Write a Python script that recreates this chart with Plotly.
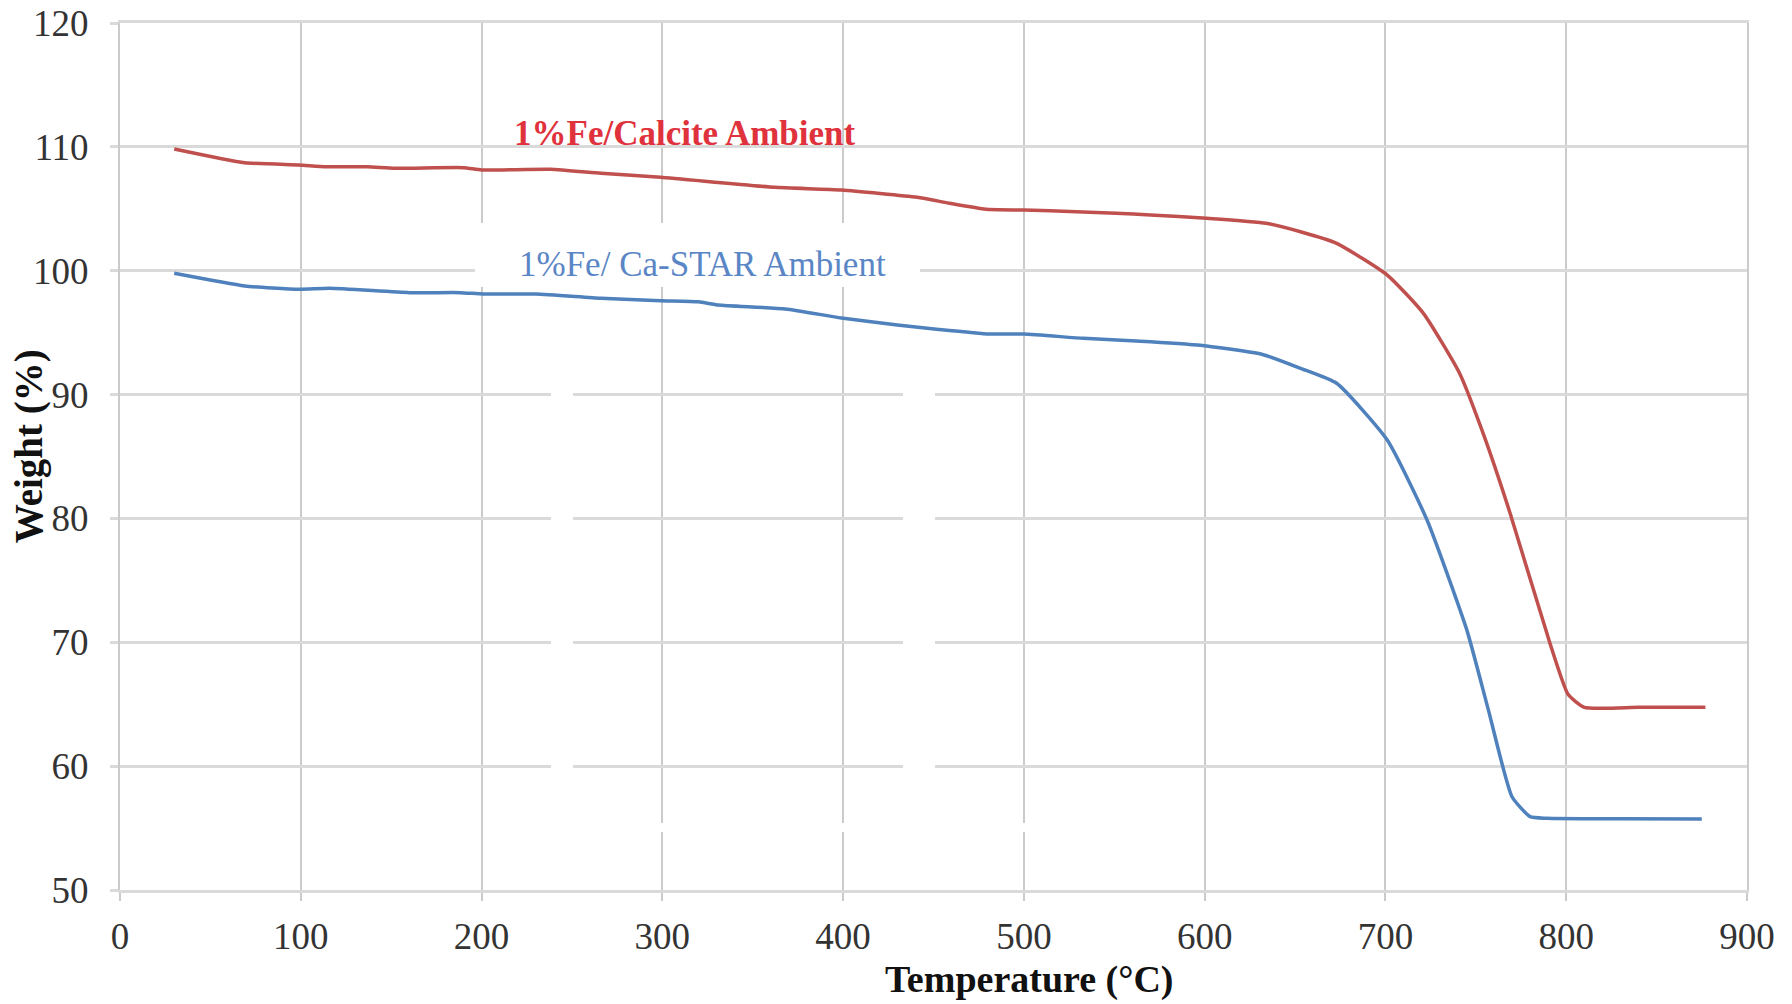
import plotly.graph_objects as go

# ---- data ----
calcite_T = [30, 69, 99, 114, 137, 152, 190, 200, 238, 266, 299, 362, 399, 441, 459, 479,
             500, 529, 551, 570, 601, 634, 653, 673, 701, 721, 741, 754, 769, 791, 801, 810,
             840, 877]
calcite_W = [109.83, 108.72, 108.54, 108.40, 108.40, 108.27, 108.32, 108.13, 108.19, 107.86,
             107.54, 106.73, 106.52, 105.93, 105.44, 104.96, 104.90, 104.77, 104.64, 104.50,
             104.23, 103.83, 103.15, 102.21, 99.65, 96.56, 91.72, 86.88, 80.40, 69.92, 65.80,
             64.75, 64.75, 64.75]

castar_T = [30, 69, 99, 116, 160, 188, 201, 230, 266, 299, 320, 331, 368, 399, 430, 453, 481,
            500, 533, 570, 601, 632, 653, 673, 701, 723, 745, 757, 770, 780, 789, 830, 875]
castar_W = [99.79, 98.77, 98.50, 98.58, 98.23, 98.23, 98.12, 98.12, 97.77, 97.58, 97.49, 97.23,
            96.91, 96.19, 95.62, 95.26, 94.89, 94.89, 94.54, 94.27, 93.93, 93.24, 92.12, 90.91,
            86.33, 79.87, 71.00, 64.50, 57.53, 55.92, 55.79, 55.75, 55.73]

x_ticks = [0, 100, 200, 300, 400, 500, 600, 700, 800, 900]
y_ticks = [50, 60, 70, 80, 90, 100, 110, 120]

calcite_name = "1%Fe/Calcite Ambient"
castar_name = "1%Fe/ Ca-STAR Ambient"
x_title = "Temperature (°C)"
y_title = "Weight (%)"

SERIF = "Times New Roman, Liberation Serif, serif"
RED_LINE = "#c0504d"
BLUE_LINE = "#4f81bd"
HGRID = "#dadada"
VGRID = "#cbcbcb"

fig = go.Figure()
fig.add_trace(go.Scatter(x=calcite_T, y=calcite_W, mode="lines", name=calcite_name,
                         line=dict(color=RED_LINE, width=3.5, shape="spline", smoothing=0.5),
                         showlegend=False))
fig.add_trace(go.Scatter(x=castar_T, y=castar_W, mode="lines", name=castar_name,
                         line=dict(color=BLUE_LINE, width=3.5, shape="spline", smoothing=0.5),
                         showlegend=False))

# series labels
fig.add_annotation(x=216.8, y=111.05, xref="x", yref="y", text="<b>" + calcite_name + "</b>",
                   showarrow=False, xanchor="left", yanchor="middle",
                   font=dict(family=SERIF, size=35, color="#e0323c"))
fig.add_annotation(x=219.8, y=100.5, xref="x", yref="y", text=castar_name,
                   showarrow=False, xanchor="left", yanchor="middle",
                   font=dict(family=SERIF, size=35, color="#5a86c6"))

# axis titles
fig.add_annotation(x=0.5587, y=-0.1038, xref="paper", yref="paper",
                   text="<b>" + x_title + "</b>", showarrow=False,
                   xanchor="center", yanchor="middle",
                   font=dict(family=SERIF, size=38, color="#111111"))
fig.add_annotation(x=-0.0559, y=0.512, xref="paper", yref="paper",
                   text="<b>" + y_title + "</b>", showarrow=False, textangle=-90,
                   xanchor="center", yanchor="middle",
                   font=dict(family=SERIF, size=39, color="#111111"))

# white patches (image artefacts of the original figure) over the grid
def paper_rect(x0, x1, y0, y1, layer="above"):
    L, R, T, B = 120, 1747, 23, 890
    fig.add_shape(type="rect", xref="paper", yref="paper",
                  x0=(x0 - L) / (R - L), x1=(x1 - L) / (R - L),
                  y0=1 - (y1 - T) / (B - T), y1=1 - (y0 - T) / (B - T),
                  fillcolor="white", line=dict(width=0), layer=layer)

paper_rect(475, 920, 223, 287)
paper_rect(551, 573, 380, 780)
paper_rect(903, 935, 380, 780)
paper_rect(570, 1100, 823, 832)

# plot area at x 120..1747, y 23..890 of the 1792x1004 page
fig.update_layout(
    width=1792, height=1004,
    margin=dict(l=120, r=45, t=23, b=114, autoexpand=False),
    paper_bgcolor="white", plot_bgcolor="white",
    font=dict(family=SERIF, size=36, color="#333333"),
)
fig.update_xaxes(range=[0, 900], tickvals=x_ticks, ticktext=[str(v) for v in x_ticks],
                 automargin=False, ticklabeloverflow="allow",
                 showgrid=True, gridcolor=VGRID, gridwidth=2,
                 zeroline=False, showline=True, mirror=True,
                 linecolor=HGRID, linewidth=3,
                 ticks="outside", ticklen=8, tickwidth=2, tickcolor=VGRID,
                 ticklabelstandoff=4,
                 tickfont=dict(family=SERIF, size=37, color="#333333"))
fig.update_yaxes(range=[50, 120], tickvals=y_ticks, ticktext=[str(v) for v in y_ticks],
                 automargin=False, ticklabeloverflow="allow",
                 showgrid=True, gridcolor=HGRID, gridwidth=3,
                 zeroline=False, showline=True, mirror=True,
                 linecolor=VGRID, linewidth=2,
                 ticks="outside", ticklen=8, tickwidth=3, tickcolor=HGRID,
                 ticklabelstandoff=14,
                 tickfont=dict(family=SERIF, size=37, color="#333333"))

fig.write_html("out.html", config={"displayModeBar": False},
               post_script="document.body.style.margin='0px';")
